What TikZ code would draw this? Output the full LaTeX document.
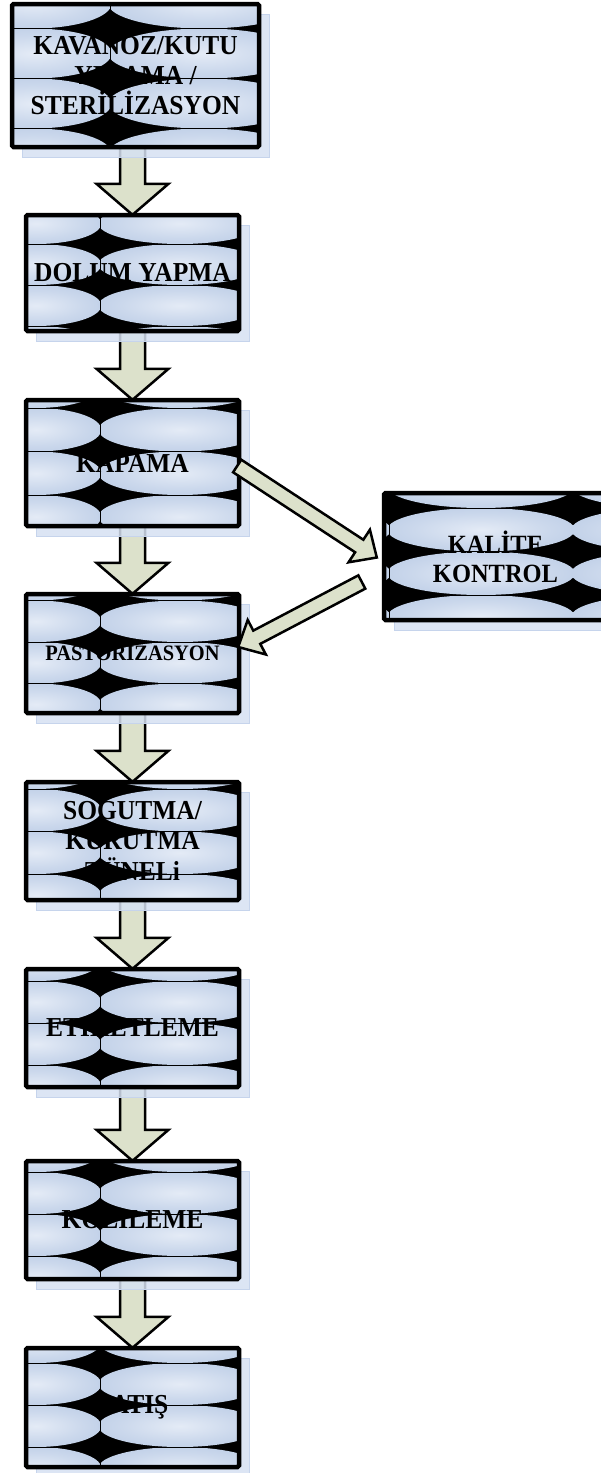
\documentclass[tikz,border=0pt]{standalone}
\usepackage{fontspec}
\setmainfont{Liberation Serif}[FakeStretch=0.93]
\usetikzlibrary{calc}
\definecolor{lc}{HTML}{E4EBF6}
\definecolor{dc}{HTML}{B2C5E2}
\colorlet{mc}{lc!50!dc}
\definecolor{shc}{HTML}{D6E1F2}
\definecolor{shb}{HTML}{C6D4EC}
\definecolor{arc}{HTML}{DCE1CB}
\pgfdeclareradialshading{ellsh}{\pgfpoint{0bp}{0bp}}{color(0bp)=(lc); color(18bp)=(mc); color(40bp)=(dc); color(50bp)=(dc)}
\pgfdeclarelayer{va}\pgfdeclarelayer{sh}\pgfdeclarelayer{bx}
\pgfsetlayers{va,sh,bx,main}
\tikzset{
  boxlbl/.style={inner sep=0pt, align=center, font=\bfseries\fontsize{27.4}{30}\selectfont},
  arrowst/.style={fill=arc, draw=black, line width=2.5pt, line join=miter},
  lens/.style={shading=ellsh},
}
% #1 x0 #2 y0 #3 x1 #4 y1 #5 seam #6 left half-width #7 right half-width #8 first row line #9 row height
\newcommand\lensbg[9]{%
\begin{pgfonlayer}{sh}
  \filldraw[fill=shc, draw=shb, line width=1pt, fill opacity=.85] (#1+10.5,#2+10.5) rectangle (#3+10.5,#4+10.5);
\end{pgfonlayer}
\begin{pgfonlayer}{bx}
  \fill[black] (#1,#2) rectangle (#3,#4);
  \begin{scope}
    \clip (#1+2,#2+2) rectangle (#3-2,#4-2);
    \foreach \r in {-2,...,3}{%
      \shade[lens] ({#5-#6},{#8+(\r-0.5)*#9}) ellipse [x radius={1.02*#6*1pt}, y radius={0.5*#9*1pt}];
      \shade[lens] ({#5+#7},{#8+(\r-0.5)*#9}) ellipse [x radius={1.02*#7*1pt}, y radius={0.5*#9*1pt}];
      \shade[lens] ({#5+3*#7},{#8+(\r-0.5)*#9}) ellipse [x radius={1.02*#7*1pt}, y radius={0.5*#9*1pt}];}
    \foreach \r in {-2,...,3}{\draw[line width=.7pt] (#1,{#8+\r*#9}) -- (#3,{#8+\r*#9});}
    \draw[line width=.7pt] (#5,#2) -- (#5,#4);
  \end{scope}
  \draw[line width=4.5pt, rounded corners=1.5pt] (#1,#2) rectangle (#3,#4);
\end{pgfonlayer}}
\newcommand\vcon[2]{%
\begin{pgfonlayer}{va}
  \draw[arrowst] let \p1=(#1.south), \p2=(#2.north) in
    (\x2-12.5pt,\y1+5pt) -- (\x2-12.5pt,\y2+31pt) -- (\x2-36pt,\y2+31pt) -- (\x2,\y2)
    -- (\x2+36pt,\y2+31pt) -- (\x2+12.5pt,\y2+31pt) -- (\x2+12.5pt,\y1+5pt) -- cycle;
\end{pgfonlayer}}
\newcommand\dcon[2]{%
  \coordinate (hb) at ($(#2)!21pt!(#1)$);
  \draw[arrowst] ($(#1)!7.5pt!90:(#2)$) -- ($(hb)!7.5pt!-90:(#1)$) -- ($(hb)!19.5pt!-90:(#1)$) -- (#2)
    -- ($(hb)!19.5pt!90:(#1)$) -- ($(hb)!7.5pt!90:(#1)$) -- ($(#1)!7.5pt!-90:(#2)$) -- cycle;}
\begin{document}
\begin{tikzpicture}[x=1pt,y=-1pt]
\useasboundingbox (0,0) rectangle (601,1473);
% backgrounds
\lensbg{12}{4}{259}{147}{110}{77}{94}{28.5}{50}
\lensbg{26}{215}{239}{331}{100}{64}{80}{244}{41}
\lensbg{26}{400}{239}{526}{100}{64}{80}{408}{43.5}
\lensbg{26}{594}{239}{713}{100}{64}{80}{600.5}{41.5}
\lensbg{26}{782}{239}{900}{100}{64}{80}{789}{42.5}
\lensbg{26}{969}{239}{1087}{100}{64}{80}{981}{42}
\lensbg{26}{1161}{239}{1279}{100}{64}{80}{1172}{42}
\lensbg{26}{1348}{239}{1467}{100}{64}{80}{1363}{42}
\lensbg{384}{493}{607}{620}{389}{92}{92}{508}{43.5}
% nodes
\node[boxlbl, minimum width=247pt, minimum height=143pt] (b1) at (135.5,75.5) {KAVANOZ/KUTU\\YIKAMA /\\STERİLİZASYON};
\node[boxlbl, minimum width=213pt, minimum height=116pt] (b2) at (132.5,273) {DOLUM YAPMA};
\node[boxlbl, minimum width=213pt, minimum height=126pt] (b3) at (132.5,463) {KAPAMA};
\node[boxlbl, minimum width=213pt, minimum height=119pt, font=\bfseries\fontsize{22}{24}\selectfont] (b4) at (132.5,653.5) {PASTORIZASYON};
\node[boxlbl, minimum width=213pt, minimum height=118pt, font=\bfseries\fontsize{27.4}{30.5}\selectfont] (b5) at (132.5,841) {SOGUTMA/\\KURUTMA\\TÜNELi};
\node[boxlbl, minimum width=213pt, minimum height=118pt] (b6) at (132.5,1028) {ETIKETLEME};
\node[boxlbl, minimum width=213pt, minimum height=118pt] (b7) at (132.5,1220) {KOLILEME};
\node[boxlbl, minimum width=213pt, minimum height=119pt] (b8) at (132.5,1407.5) {SATIŞ};
\node[boxlbl, minimum width=223pt, minimum height=127pt, font=\bfseries\fontsize{26.3}{29}\selectfont] (kk) at (495.5,556.5) {KALİTE\\KONTROL};
% vertical connectors
\vcon{b1}{b2}
\vcon{b2}{b3}
\vcon{b3}{b4}
\vcon{b4}{b5}
\vcon{b5}{b6}
\vcon{b6}{b7}
\vcon{b7}{b8}
% diagonal connectors
\coordinate (s1) at ($(b3.east)+(-2,3)$);
\coordinate (t1) at ($(kk.west)+(-7,1)$);
\coordinate (s2) at ($(kk.west)+(-22,25.5)$);
\coordinate (t2) at ($(b4.east)+(-1,-6.5)$);
\dcon{s1}{t1}
\dcon{s2}{t2}
\end{tikzpicture}
\end{document}
